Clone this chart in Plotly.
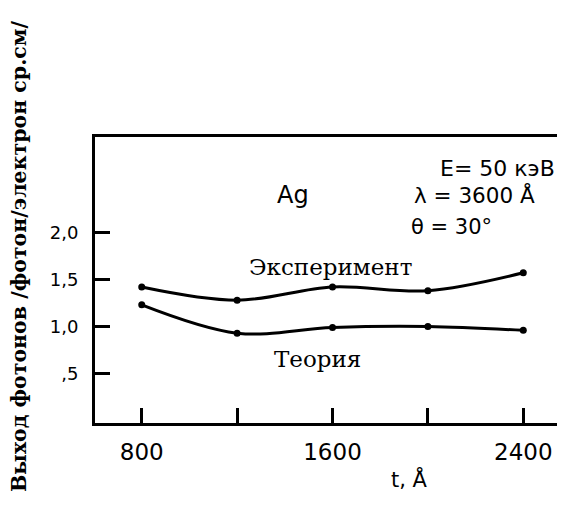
import plotly.graph_objects as go

# Data
thickness = [800, 1200, 1600, 2000, 2400]          # t, Å
experiment = [1.42, 1.28, 1.42, 1.38, 1.57]
theory = [1.23, 0.93, 0.99, 1.00, 0.96]

x_tickvals = [800, 1200, 1600, 2000, 2400]
x_ticktext = ["800", "", "1600", "", "2400"]
y_tickvals = [0.5, 1.0, 1.5, 2.0]
y_ticktext = [",5", "1,0", "1,5", "2,0"]

fig = go.Figure()
for ys in (experiment, theory):
    fig.add_trace(go.Scatter(
        x=thickness, y=ys, mode="lines+markers",
        line=dict(color="black", width=3, shape="spline", smoothing=1.0),
        marker=dict(color="black", size=7, symbol="circle"),
        showlegend=False, hoverinfo="skip"))

sans = "DejaVu Sans"
serif = "DejaVu Serif"

# page body has an 8px margin: figure is drawn 8px right/down from the window corner
W, H = 557, 505
L, T, B = 87, 129, 90
pw, ph = W - L, H - T - B


def px(sx):   # screen x -> paper fraction
    return (sx - 8 - L) / pw


def py(sy):   # screen y -> paper fraction
    return (H - B - (sy - 8)) / ph


fig.update_layout(
    width=W, height=H,
    margin=dict(l=L, r=0, t=T, b=B),
    paper_bgcolor="white", plot_bgcolor="white",
    xaxis=dict(
        range=[604, 2575], tickvals=x_tickvals, ticktext=x_ticktext,
        ticks="inside", ticklen=15, tickwidth=2.5, tickcolor="black",
        showline=True, linewidth=3, linecolor="black", mirror=True,
        showgrid=False, zeroline=False,
        tickfont=dict(family=sans, size=23, color="black"),
        ticklabelstandoff=6,
    ),
    yaxis=dict(
        range=[-0.023, 3.01], tickvals=y_tickvals, ticktext=y_ticktext,
        ticks="inside", ticklen=15, tickwidth=2.5, tickcolor="black",
        showline=True, linewidth=3, linecolor="black", mirror=False,
        showgrid=False, zeroline=False,
        tickfont=dict(family=sans, size=18, color="black"),
        ticklabelstandoff=10,
    ),
    annotations=[
        dict(text="Выход фотонов /фотон/электрон ср.см/", xref="paper", yref="paper",
             x=px(19), y=py(256), xanchor="center", yanchor="middle",
             textangle=-90, showarrow=False,
             font=dict(family=serif, size=20.5, color="black", weight="bold")),
        dict(text="t, Å", xref="paper", yref="paper", x=px(409), y=py(479),
             xanchor="center", yanchor="middle",
             showarrow=False, font=dict(family=sans, size=21, color="black")),
        dict(text="Ag", x=1434, y=2.40, xanchor="center", yanchor="middle", showarrow=False,
             font=dict(family=sans, size=24, color="black")),
        dict(text="E= 50 кэВ", x=2541, y=2.68, xanchor="right", yanchor="middle", showarrow=False,
             font=dict(family=sans, size=22, color="black")),
        dict(text="λ = 3600 Å", x=1935, y=2.39, xanchor="left", yanchor="middle", showarrow=False,
             font=dict(family=sans, size=21.5, color="black")),
        dict(text="θ = 30°", x=1922, y=2.06, xanchor="left", yanchor="middle", showarrow=False,
             font=dict(family=sans, size=21, color="black")),
        dict(text="Эксперимент", x=1590, y=1.63, xanchor="center", yanchor="middle", showarrow=False,
             font=dict(family=serif, size=23, color="black")),
        dict(text="Теория", x=1535, y=0.66, xanchor="center", yanchor="middle", showarrow=False,
             font=dict(family=serif, size=23, color="black")),
    ],
)

fig.write_html("out.html")
